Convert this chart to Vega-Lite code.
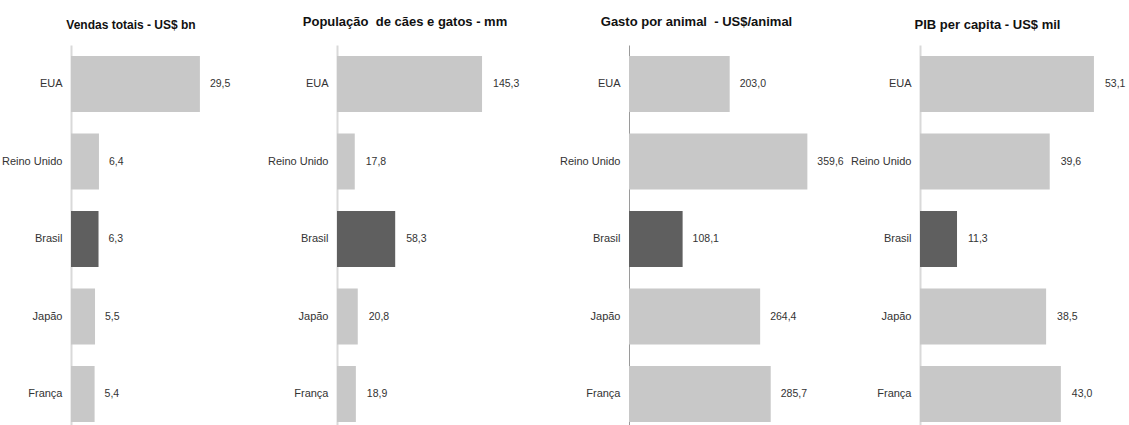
{
  "$schema": "https://vega.github.io/schema/vega-lite/v6.json",
  "padding": {"left": 0, "top": 16, "right": 0, "bottom": 0},
  "background": "white",
  "data": {"values": [
    {"indicador": "vendas", "pais": "EUA", "valor": 29.5},
    {"indicador": "vendas", "pais": "Reino Unido", "valor": 6.4},
    {"indicador": "vendas", "pais": "Brasil", "valor": 6.3},
    {"indicador": "vendas", "pais": "Japão", "valor": 5.5},
    {"indicador": "vendas", "pais": "França", "valor": 5.4},
    {"indicador": "populacao", "pais": "EUA", "valor": 145.3},
    {"indicador": "populacao", "pais": "Reino Unido", "valor": 17.8},
    {"indicador": "populacao", "pais": "Brasil", "valor": 58.3},
    {"indicador": "populacao", "pais": "Japão", "valor": 20.8},
    {"indicador": "populacao", "pais": "França", "valor": 18.9},
    {"indicador": "gasto", "pais": "EUA", "valor": 203.0},
    {"indicador": "gasto", "pais": "Reino Unido", "valor": 359.6},
    {"indicador": "gasto", "pais": "Brasil", "valor": 108.1},
    {"indicador": "gasto", "pais": "Japão", "valor": 264.4},
    {"indicador": "gasto", "pais": "França", "valor": 285.7},
    {"indicador": "pib", "pais": "EUA", "valor": 53.1},
    {"indicador": "pib", "pais": "Reino Unido", "valor": 39.6},
    {"indicador": "pib", "pais": "Brasil", "valor": 11.3},
    {"indicador": "pib", "pais": "Japão", "valor": 38.5},
    {"indicador": "pib", "pais": "França", "valor": 43.0}
  ]},
  "spacing": 0,
  "hconcat": [
    {
      "width": 194, "height": 380,
      "title": {"text": "Vendas totais - US$ bn", "dx": -37, "fontSize": 12, "offset": 13},
      "transform": [{"filter": "datum.indicador === 'vendas'"}],
      "encoding": {
        "y": {"field": "pais", "type": "nominal", "sort": ["EUA", "Reino Unido", "Brasil", "Japão", "França"],
              "scale": {"paddingInner": 0.277, "paddingOuter": 0.09, "align": 0.79},
              "axis": {"title": null, "minExtent": 71, "maxExtent": 71, "domainColor": "#d9d9d9", "domainWidth": 2}},
        "x": {"field": "valor", "type": "quantitative", "scale": {"domain": [0, 44.4]}, "axis": null}
      },
      "layer": [
        {"mark": {"type": "bar"}, "encoding": {"color": {"field": "pais", "type": "nominal", "legend": null,
          "scale": {"domain": ["EUA", "Reino Unido", "Brasil", "Japão", "França"], "range": ["#c8c8c8", "#c8c8c8", "#5f5f5f", "#c8c8c8", "#c8c8c8"]}}}},
        {"mark": {"type": "text", "align": "left", "dx": 10}, "encoding": {"text": {"field": "valor", "type": "quantitative", "format": ".1f"}}}
      ]
    },
    {
      "width": 220, "height": 380,
      "title": {"text": "População\u00a0 de cães e gatos - mm", "dx": -42},
      "transform": [{"filter": "datum.indicador === 'populacao'"}],
      "encoding": {
        "y": {"field": "pais", "type": "nominal", "sort": ["EUA", "Reino Unido", "Brasil", "Japão", "França"],
              "scale": {"paddingInner": 0.277, "paddingOuter": 0.09, "align": 0.79},
              "axis": {"title": null, "minExtent": 72, "maxExtent": 72, "domainColor": "#d9d9d9", "domainWidth": 2}},
        "x": {"field": "valor", "type": "quantitative", "scale": {"domain": [0, 220.4]}, "axis": null}
      },
      "layer": [
        {"mark": {"type": "bar"}, "encoding": {"color": {"field": "pais", "type": "nominal", "legend": null,
          "scale": {"domain": ["EUA", "Reino Unido", "Brasil", "Japão", "França"], "range": ["#c8c8c8", "#c8c8c8", "#5f5f5f", "#c8c8c8", "#c8c8c8"]}}}},
        {"mark": {"type": "text", "align": "left", "dx": 11}, "encoding": {"text": {"field": "valor", "type": "quantitative", "format": ".1f"}}}
      ]
    },
    {
      "width": 219, "height": 380,
      "title": {"text": "Gasto por animal\u00a0 - US$/animal", "dx": -42},
      "transform": [{"filter": "datum.indicador === 'gasto'"}],
      "encoding": {
        "y": {"field": "pais", "type": "nominal", "sort": ["EUA", "Reino Unido", "Brasil", "Japão", "França"],
              "scale": {"paddingInner": 0.277, "paddingOuter": 0.09, "align": 0.79},
              "axis": {"title": null, "minExtent": 72, "maxExtent": 72, "domainColor": "#9a9a9a", "domainWidth": 1}},
        "x": {"field": "valor", "type": "quantitative", "scale": {"domain": [0, 441.5]}, "axis": null}
      },
      "layer": [
        {"mark": {"type": "bar"}, "encoding": {"color": {"field": "pais", "type": "nominal", "legend": null,
          "scale": {"domain": ["EUA", "Reino Unido", "Brasil", "Japão", "França"], "range": ["#c8c8c8", "#c8c8c8", "#5f5f5f", "#c8c8c8", "#c8c8c8"]}}}},
        {"mark": {"type": "text", "align": "left", "dx": 10}, "encoding": {"text": {"field": "valor", "type": "quantitative", "format": ".1f"}}}
      ]
    },
    {
      "width": 209, "height": 380,
      "title": {"text": "PIB per capita - US$ mil", "dx": -37, "offset": 13},
      "transform": [{"filter": "datum.indicador === 'pib'"}],
      "encoding": {
        "y": {"field": "pais", "type": "nominal", "sort": ["EUA", "Reino Unido", "Brasil", "Japão", "França"],
              "scale": {"paddingInner": 0.277, "paddingOuter": 0.09, "align": 0.79},
              "axis": {"title": null, "minExtent": 72, "maxExtent": 72, "domainColor": "#d9d9d9", "domainWidth": 2}},
        "x": {"field": "valor", "type": "quantitative", "scale": {"domain": [0, 63.8]}, "axis": null}
      },
      "layer": [
        {"mark": {"type": "bar"}, "encoding": {"color": {"field": "pais", "type": "nominal", "legend": null,
          "scale": {"domain": ["EUA", "Reino Unido", "Brasil", "Japão", "França"], "range": ["#c8c8c8", "#c8c8c8", "#5f5f5f", "#c8c8c8", "#c8c8c8"]}}}},
        {"mark": {"type": "text", "align": "left", "dx": 11}, "encoding": {"text": {"field": "valor", "type": "quantitative", "format": ".1f"}}}
      ]
    }
  ],
  "resolve": {"scale": {"x": "independent", "y": "independent", "color": "independent"}},
  "config": {
    "locale": {"number": {"decimal": ",", "thousands": ".", "grouping": [3], "currency": ["US$", ""]}},
    "view": {"stroke": null},
    "font": "Liberation Sans",
    "title": {"font": "Liberation Sans", "fontSize": 13, "fontWeight": "bold", "color": "#111111", "anchor": "middle", "frame": "group", "offset": 16},
    "axis": {"ticks": false, "grid": false, "labelFont": "Liberation Sans", "labelFontSize": 11, "labelColor": "#333333", "labelPadding": 9},
    "text": {"font": "Liberation Sans", "fontSize": 10.5, "color": "#333333", "baseline": "middle"}
  }
}
